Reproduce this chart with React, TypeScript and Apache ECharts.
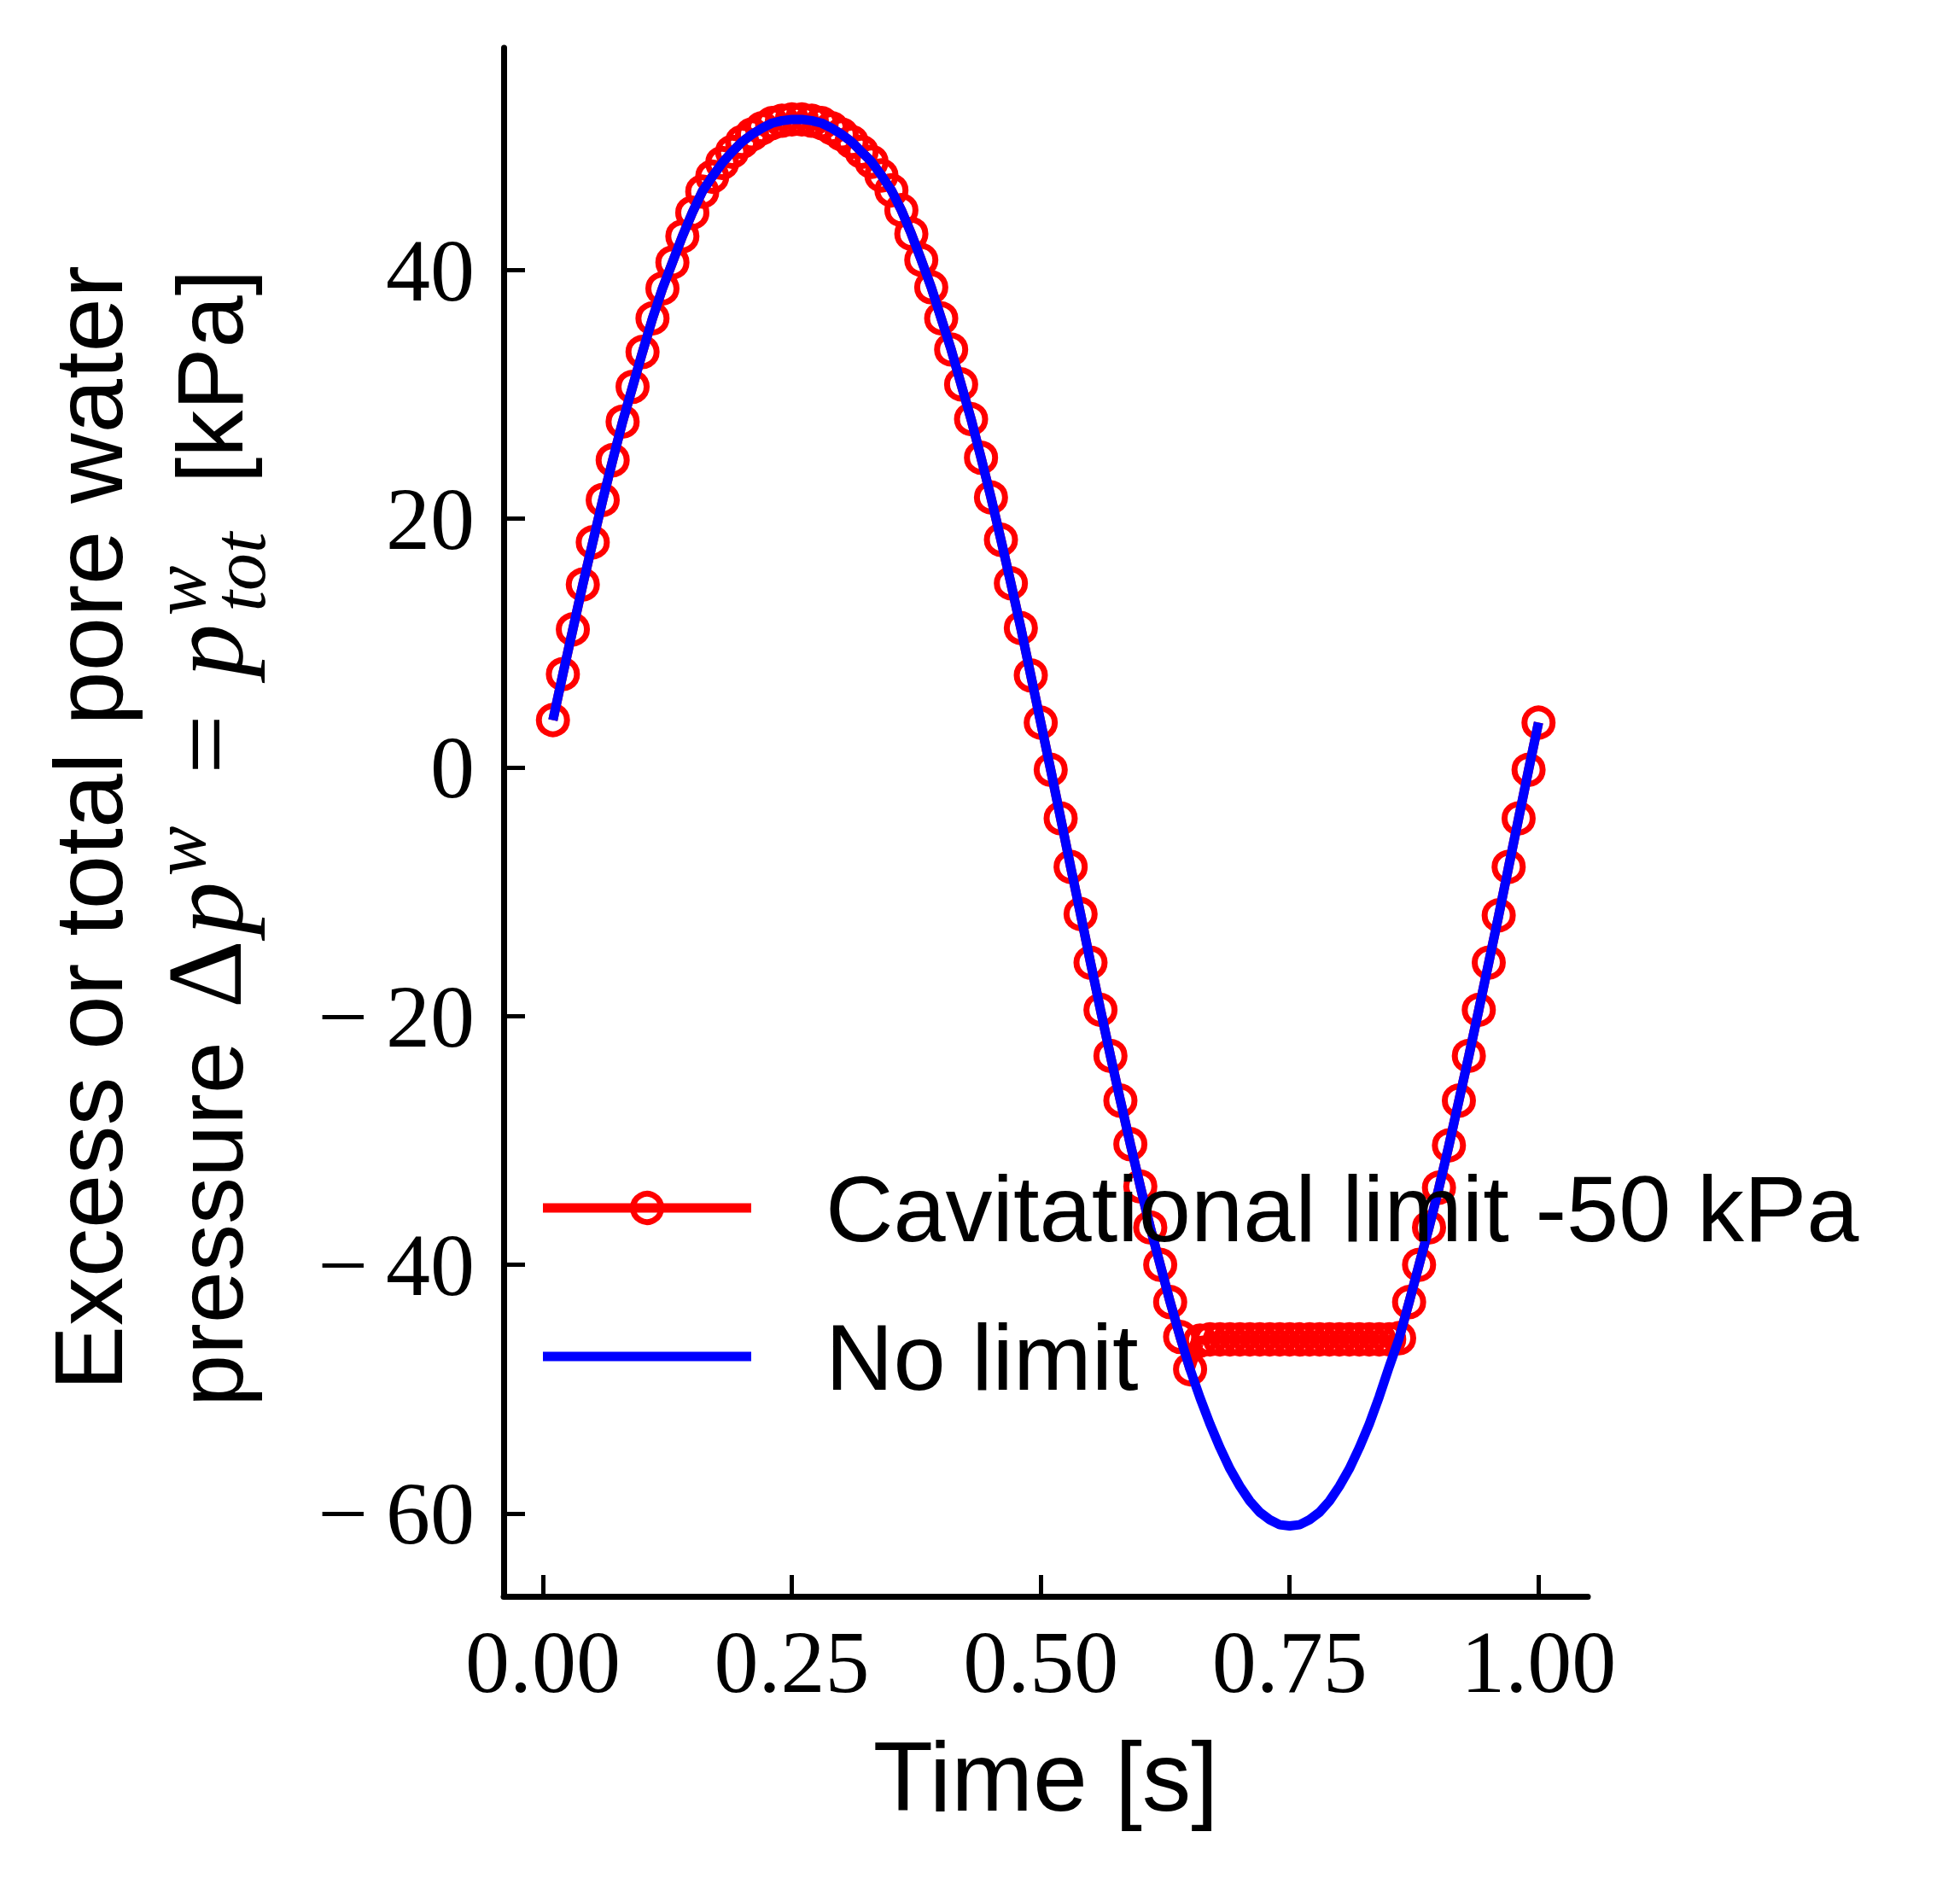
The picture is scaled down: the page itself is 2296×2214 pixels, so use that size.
import React, { useEffect, useRef } from "react";
import * as echarts from "echarts";

// Time steps [s]
const timeS = [
  0.01, 0.02, 0.03, 0.04, 0.05, 0.06, 0.07, 0.08, 0.09, 0.1,
  0.11, 0.12, 0.13, 0.14, 0.15, 0.16, 0.17, 0.18, 0.19, 0.2,
  0.21, 0.22, 0.23, 0.24, 0.25, 0.26, 0.27, 0.28, 0.29, 0.3,
  0.31, 0.32, 0.33, 0.34, 0.35, 0.36, 0.37, 0.38, 0.39, 0.4,
  0.41, 0.42, 0.43, 0.44, 0.45, 0.46, 0.47, 0.48, 0.49, 0.5,
  0.51, 0.52, 0.53, 0.54, 0.55, 0.56, 0.57, 0.58, 0.59, 0.6,
  0.61, 0.62, 0.63, 0.64, 0.65, 0.66, 0.67, 0.68, 0.69, 0.7,
  0.71, 0.72, 0.73, 0.74, 0.75, 0.76, 0.77, 0.78, 0.79, 0.8,
  0.81, 0.82, 0.83, 0.84, 0.85, 0.86, 0.87, 0.88, 0.89, 0.9,
  0.91, 0.92, 0.93, 0.94, 0.95, 0.96, 0.97, 0.98, 0.99, 1.0,
];

// Pore water pressure with cavitational limit [kPa]
const cavitationKPa = [
  3.8, 7.5, 11.1, 14.7, 18.1, 21.5, 24.7, 27.8, 30.6, 33.4,
  36.1, 38.5, 40.6, 42.7, 44.6, 46.3, 47.5, 48.6, 49.5, 50.3,
  50.9, 51.4, 51.8, 52.0, 52.1, 52.1, 52.0, 51.8, 51.4, 50.9,
  50.3, 49.5, 48.7, 47.6, 46.4, 44.8, 42.9, 40.8, 38.6, 36.1,
  33.6, 30.8, 28.0, 24.9, 21.7, 18.3, 14.8, 11.2, 7.4, 3.6,
  -0.2, -4.1, -8.0, -11.8, -15.7, -19.5, -23.2, -26.8, -30.3, -33.7,
  -37.0, -40.0, -43.0, -45.8, -48.4, -46.1, -46.0, -46.0, -46.0, -46.0,
  -46.0, -46.0, -46.0, -46.0, -46.0, -46.0, -46.0, -46.0, -46.0, -46.0,
  -46.0, -46.0, -46.0, -46.0, -46.0, -45.9, -43.0, -40.0, -37.0, -33.8,
  -30.4, -26.8, -23.2, -19.5, -15.7, -11.9, -8.0, -4.1, -0.2, 3.6,
];

// Pore water pressure without limit [kPa]
const noLimitKPa = [
  3.8, 7.5, 11.1, 14.7, 18.1, 21.5, 24.7, 27.8, 30.6, 33.4,
  36.1, 38.5, 40.6, 42.7, 44.6, 46.3, 47.5, 48.6, 49.5, 50.3,
  50.9, 51.4, 51.8, 52.0, 52.1, 52.1, 52.0, 51.8, 51.4, 50.9,
  50.3, 49.5, 48.7, 47.6, 46.4, 44.8, 42.9, 40.8, 38.6, 36.1,
  33.6, 30.8, 28.0, 24.9, 21.7, 18.3, 14.8, 11.2, 7.4, 3.6,
  -0.2, -4.1, -8.0, -11.8, -15.7, -19.5, -23.2, -26.8, -30.3, -33.7,
  -37.0, -40.0, -43.0, -45.8, -48.4, -50.7, -52.8, -54.7, -56.4, -57.8,
  -59.0, -59.9, -60.5, -60.9, -61.0, -60.9, -60.5, -59.9, -59.0, -57.8,
  -56.4, -54.7, -52.8, -50.6, -48.2, -45.9, -43.0, -40.0, -37.0, -33.8,
  -30.4, -26.8, -23.2, -19.5, -15.7, -11.9, -8.0, -4.1, -0.2, 3.6,
];

const xTicks = [0, 0.25, 0.5, 0.75, 1.0];
const yTicks = [-60, -40, -20, 0, 20, 40];
const seriesNames = ["Cavitational limit -50 kPa", "No limit"];
const xAxisTitle = "Time [s]";
const yTitleLine1 = "Excess or total pore water";

const SANS = '"Liberation Sans", Arial, sans-serif';
const SERIF = '"Liberation Serif", "Times New Roman", serif';

function rotText(text: string, x: number, y: number, fontSize: number, family: string, italic = false) {
  return {
    type: "text",
    x,
    y,
    rotation: Math.PI / 2,
    z: 100,
    silent: true,
    style: {
      text,
      fontSize,
      fontFamily: family,
      fontStyle: italic ? "italic" : "normal",
      fill: "#000",
      align: "center",
      verticalAlign: "middle",
      textAlign: "center",
      textVerticalAlign: "middle",
    },
  };
}

export default function App() {
  const ref = useRef<HTMLDivElement>(null);
  useEffect(() => {
    document.body.style.margin = "0";
    const chart = echarts.init(ref.current!, null, { renderer: "svg" });
    const axisCommon = {
      type: "value",
      splitLine: { show: false },
      axisLine: { show: true, onZero: false, lineStyle: { color: "#000", width: 7 } },
    };
    const option: any = {
      animation: false,
      backgroundColor: "#ffffff",
      grid: { left: 590, right: 436, top: 56, bottom: 344, containLabel: false },
      xAxis: {
        ...axisCommon,
        min: -0.0395,
        max: 1.0495,
        axisTick: { show: true, inside: true, length: 25, lineStyle: { color: "#000", width: 5 }, customValues: xTicks },
        axisLabel: {
          customValues: xTicks,
          formatter: (v: number) => v.toFixed(2),
          fontFamily: SERIF,
          fontSize: 104,
          color: "#000",
          margin: 24,
        },
        name: xAxisTitle,
        nameLocation: "middle",
        nameGap: 153,
        nameTextStyle: { fontFamily: SANS, fontSize: 115, color: "#000" },
      },
      yAxis: {
        ...axisCommon,
        min: -66.66,
        max: 57.86,
        axisTick: { show: true, inside: true, length: 25, lineStyle: { color: "#000", width: 5 }, customValues: yTicks },
        axisLabel: {
          customValues: yTicks,
          formatter: (v: number) => (v < 0 ? "\u2212\u2009" + Math.abs(v) : String(v)),
          fontFamily: SERIF,
          fontSize: 104,
          color: "#000",
          margin: 34,
        },
      },
      series: [
        {
          name: seriesNames[0],
          type: "line",
          data: timeS.map((t, i) => [t, cavitationKPa[i]]),
          symbol: "circle",
          symbolSize: 33,
          showSymbol: true,
          itemStyle: { color: "rgba(255,255,255,0)", borderColor: "#ff0000", borderWidth: 7 },
          lineStyle: { color: "#ff0000", width: 11 },
          emphasis: { disabled: true },
          silent: true,
          z: 2,
        },
        {
          name: seriesNames[1],
          type: "line",
          data: timeS.map((t, i) => [t, noLimitKPa[i]]),
          symbol: "none",
          lineStyle: { color: "#0000ff", width: 11 },
          emphasis: { disabled: true },
          silent: true,
          z: 3,
        },
      ],
      graphic: [
        // y-axis title, line 1
        rotText(yTitleLine1, 103, 970, 114, SANS),
        // y-axis title, line 2 (with math)
        rotText("pressure", 245, 1434, 110, SANS),
        rotText("\u0394", 240, 1141, 124, SERIF),
        rotText("p", 241, 1064, 124, SERIF, true),
        rotText("w", 210, 997, 88, SERIF, true),
        rotText("=", 241, 872, 124, SERIF),
        rotText("p", 241, 762, 124, SERIF, true),
        rotText("w", 210, 692, 88, SERIF, true),
        rotText("tot", 280, 670, 88, SERIF, true),
        rotText("[kPa]", 245, 441, 110, SANS),
        // legend
        {
          type: "line",
          z: 100,
          silent: true,
          shape: { x1: 636, y1: 1415, x2: 880, y2: 1415 },
          style: { stroke: "#ff0000", lineWidth: 11 },
        },
        {
          type: "circle",
          z: 101,
          silent: true,
          shape: { cx: 758, cy: 1415, r: 16.5 },
          style: { fill: "none", stroke: "#ff0000", lineWidth: 7 },
        },
        {
          type: "text",
          x: 967,
          y: 1415,
          z: 100,
          silent: true,
          style: {
            text: seriesNames[0],
            fontSize: 110,
            fontFamily: SANS,
            fill: "#000",
            verticalAlign: "middle",
            textVerticalAlign: "middle",
          },
        },
        {
          type: "line",
          z: 100,
          silent: true,
          shape: { x1: 636, y1: 1589, x2: 880, y2: 1589 },
          style: { stroke: "#0000ff", lineWidth: 11 },
        },
        {
          type: "text",
          x: 967,
          y: 1589,
          z: 100,
          silent: true,
          style: {
            text: seriesNames[1],
            fontSize: 110,
            fontFamily: SANS,
            fill: "#000",
            verticalAlign: "middle",
            textVerticalAlign: "middle",
          },
        },
      ],
    };
    chart.setOption(option);
    return () => {
      chart.dispose();
    };
  }, []);
  return <div ref={ref} style={{ width: 2296, height: 2214 }} />;
}
